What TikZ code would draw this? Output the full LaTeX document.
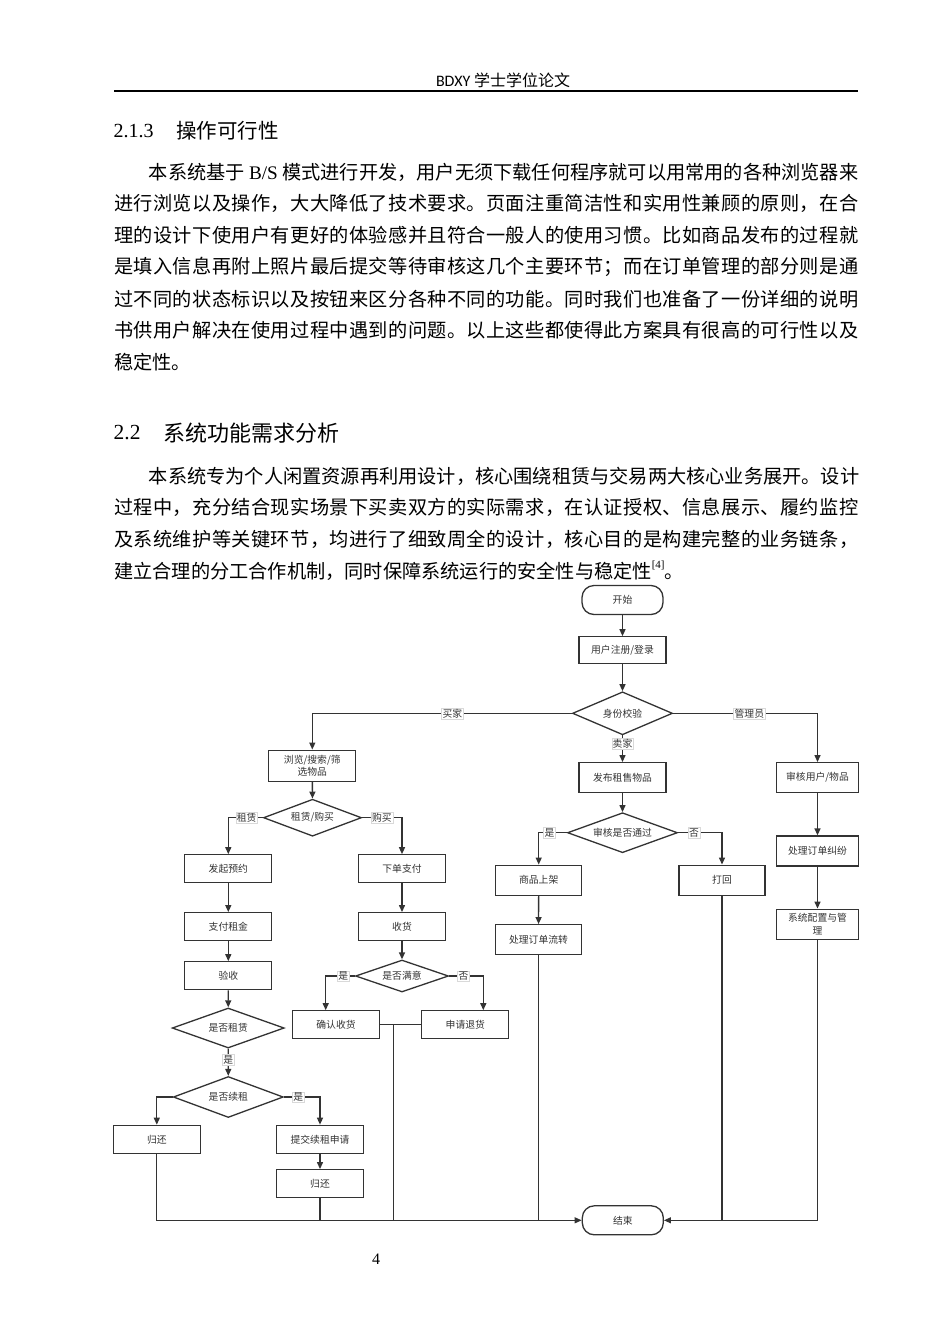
\documentclass[tikz,border=0pt]{standalone}
\usepackage{fontspec}
\setmainfont{Noto Sans CJK SC}
\newfontfamily\tnr{Liberation Serif}
\newfontfamily\carl{Carlito}
\usetikzlibrary{shapes.geometric,arrows.meta}
\definecolor{lc}{HTML}{333333}
\ExplSyntaxOn
\NewDocumentCommand\jline{mm}{\hbox to #1{\tl_map_inline:nn{#2}{##1\hfil}\unskip}}
\ExplSyntaxOff
\begin{document}
\begin{tikzpicture}[x=1pt,y=-1pt,
  body/.style={anchor=west, inner sep=0pt, font=\fontsize{19.2}{23}\selectfont},
  box/.style={draw=lc, line width=1.3pt, fill=white, text=lc, font=\fontsize{9.8}{12.3}\selectfont, minimum width=87pt, minimum height=28pt, inner sep=1pt, align=center},
  term/.style={box, rounded corners=12pt, minimum width=81pt, minimum height=29pt},
  dec/.style={diamond, aspect=2.4, draw=lc, line width=1.3pt, fill=white, text=lc, font=\fontsize{9.8}{12}\selectfont, inner sep=0pt},
  conn/.style={draw=lc, line width=1.1pt},
  arr/.style={draw=lc, line width=1.3pt, -{Triangle[length=7pt,width=6pt]}},
  lbl/.style={fill=white, draw=gray!30, line width=0.4pt, inner sep=1pt, text=lc, font=\fontsize{9.8}{11}\selectfont}
]
\fill[white] (0,0) rectangle (950,1344);
\useasboundingbox (0,0) rectangle (950,1344);

% header
\node[inner sep=0pt, font=\fontsize{16}{18}\selectfont] (hdr) at (503,80) {{\carl BDXY} 学士学位论文};
\draw[line width=1.8pt] (114,91) -- (858,91);

% 2.1.3
\node[anchor=west, inner sep=0pt, font=\fontsize{20}{22}\selectfont] (h1n) at (113.5,131) {\tnr 2.1.3};
\node[anchor=west, inner sep=0pt, font=\fontsize{20.5}{22}\selectfont] (h1t) at (176,131) {操作可行性};

\node[body] (a1) at (148.6,172) {\jline{709.4pt}{本系统基于{{\tnr\ B/S\ }}模式进行开发，用户无须下载任何程序就可以用常用的各种浏览器来}};
\node[body] (a2) at (114,203.7) {\jline{744pt}{进行浏览以及操作，大大降低了技术要求。页面注重简洁性和实用性兼顾的原则，在合}};
\node[body] (a3) at (114,235.3) {\jline{744pt}{理的设计下使用户有更好的体验感并且符合一般人的使用习惯。比如商品发布的过程就}};
\node[body] (a4) at (114,267) {\jline{744pt}{是填入信息再附上照片最后提交等待审核这几个主要环节；而在订单管理的部分则是通}};
\node[body] (a5) at (114,298.7) {\jline{744pt}{过不同的状态标识以及按钮来区分各种不同的功能。同时我们也准备了一份详细的说明}};
\node[body] (a6) at (114,330.3) {\jline{744pt}{书供用户解决在使用过程中遇到的问题。以上这些都使得此方案具有很高的可行性以及}};
\node[body] (a7) at (114,362) {稳定性。};

% 2.2
\node[anchor=west, inner sep=0pt, font=\fontsize{21.5}{23}\selectfont] (h2n) at (113.5,433) {\tnr 2.2};
\node[anchor=west, inner sep=0pt, font=\fontsize{22}{24}\selectfont] (h2t) at (163.5,433) {系统功能需求分析};

\node[body] (b1) at (148.6,476) {\jline{709.4pt}{本系统专为个人闲置资源再利用设计，核心围绕租赁与交易两大核心业务展开。设计}};
\node[body] (b2) at (114,507.5) {\jline{744pt}{过程中，充分结合现实场景下买卖双方的实际需求，在认证授权、信息展示、履约监控}};
\node[body] (b3) at (114,539) {\jline{744pt}{及系统维护等关键环节，均进行了细致周全的设计，核心目的是构建完整的业务链条，}};
\node[body] (b4) at (114,570.5) {建立合理的分工合作机制，同时保障系统运行的安全性与稳定性\raisebox{0.55em}{\fontsize{11}{12}\selectfont\tnr [4]}。};

% page number
\node[inner sep=0pt, font=\fontsize{16}{18}\selectfont] (pg) at (376,1259) {\tnr 4};

% ---------------- flowchart ----------------
\node[term] (start) at (622.5,600) {开始};
\node[box, minimum height=27pt] (login) at (622.5,650.3) {用户注册/登录};
\node[dec, minimum width=100pt, minimum height=43pt] (idc) at (622.5,713.3) {身份校验};

% buyer
\node[box, minimum height=31pt] (browse) at (312.3,765.7) {浏览/搜索/筛\\选物品};
\node[dec, minimum width=98pt, minimum height=37pt] (rb) at (312.5,817.7) {租赁/购买};
\node[box] (reserve) at (228.3,868.8) {发起预约};
\node[box] (order) at (402,868.8) {下单支付};
\node[box] (payrent) at (228.3,926.7) {支付租金};
\node[box] (receive) at (402,926.7) {收货};
\node[box] (inspect) at (228.3,975.8) {验收};
\node[dec, minimum width=93pt, minimum height=32pt] (sat) at (402,976) {是否满意};
\node[box] (confirm) at (336,1024.8) {确认收货};
\node[box] (refund) at (465.3,1024.8) {申请退货};
\node[dec, minimum width=112pt, minimum height=40pt] (isrent) at (228.2,1028) {是否租赁};
\node[dec, minimum width=110pt, minimum height=41pt] (renew) at (228.3,1097) {是否续租};
\node[box] (ret1) at (156.8,1139.3) {归还};
\node[box] (submit) at (320,1139.3) {提交续租申请};
\node[box] (ret2) at (320,1183.7) {归还};

% seller
\node[box, minimum height=30pt] (publish) at (622.5,777.7) {发布租售物品};
\node[dec, minimum width=110pt, minimum height=40pt] (audit) at (622.5,832.7) {审核是否通过};
\node[box, minimum width=86pt, minimum height=30pt] (listing) at (538.7,880.2) {商品上架};
\node[box, minimum width=86pt, minimum height=30pt] (reject) at (722,880.2) {打回};
\node[box, minimum width=86pt, minimum height=30pt] (flow) at (538.5,939.7) {处理订单流转};

% admin
\node[box, minimum width=82pt, minimum height=30pt] (review) at (817.5,777.7) {审核用户/物品};
\node[box, minimum width=82pt, minimum height=30pt] (dispute) at (817.5,851) {处理订单纠纷};
\node[box, minimum width=82pt, minimum height=30pt] (config) at (817.5,924.2) {系统配置与管\\理};

\node[term] (end) at (622.8,1220.3) {结束};

% connectors
\draw[arr] (start) -- (login);
\draw[arr] (login) -- (idc);
\draw[arr] (idc.west) -| node[lbl, pos=0.23] {买家} (browse.north);
\draw[arr] (idc.east) -| node[lbl, pos=0.264] {管理员} (review.north);
\draw[arr] (idc.south) -- node[lbl, pos=0.3] {卖家} (publish.north);

\draw[arr] (browse) -- (rb);
\draw[arr] (rb.west) -| node[lbl, pos=0.235] {租赁} (reserve.north);
\draw[arr] (rb.east) -| node[lbl, pos=0.248] {购买} (order.north);
\draw[arr] (reserve) -- (payrent);
\draw[arr] (payrent) -- (inspect);
\draw[arr] (inspect) -- (isrent);
\draw[arr] (isrent.south) -- node[lbl, pos=0.41] {是} (renew.north);
\draw[arr] (renew.west) -| (ret1.north);
\draw[arr] (renew.east) -| node[lbl, pos=0.2] {是} (submit.north);
\draw[arr] (submit) -- (ret2);

\draw[arr] (order) -- (receive);
\draw[arr] (receive) -- (sat);
\draw[arr] (sat.west) -| node[lbl, pos=0.2] {是} ([xshift=-10.3pt]confirm.north);
\draw[arr] (sat.east) -| node[lbl, pos=0.21] {否} ([xshift=18pt]refund.north);
\draw[conn] (confirm.east) -- (refund.west);
\path (confirm.east) -- (refund.west) coordinate[pos=0.328] (j1);

\draw[arr] (publish) -- (audit);
\draw[arr] (audit.west) -| node[lbl, pos=0.31] {是} (listing.north);
\draw[arr] (audit.east) -| node[lbl, pos=0.18] {否} (reject.north);
\draw[arr] (listing) -- (flow);

\draw[arr] (review) -- (dispute);
\draw[arr] (dispute) -- (config);

% to end
\draw[conn, -{Triangle[length=7pt,width=6pt]}] (ret1.south) |- (end.west);
\draw[conn] (ret2.south) -- (ret2.south |- end.west);
\draw[conn] (j1) -- (j1 |- end.west);
\draw[conn] (flow.south) -- (flow.south |- end.west);
\draw[conn, -{Triangle[length=7pt,width=6pt]}] (config.south) |- (end.east);
\draw[conn] (reject.south) -- (reject.south |- end.east);
\end{tikzpicture}
\end{document}
